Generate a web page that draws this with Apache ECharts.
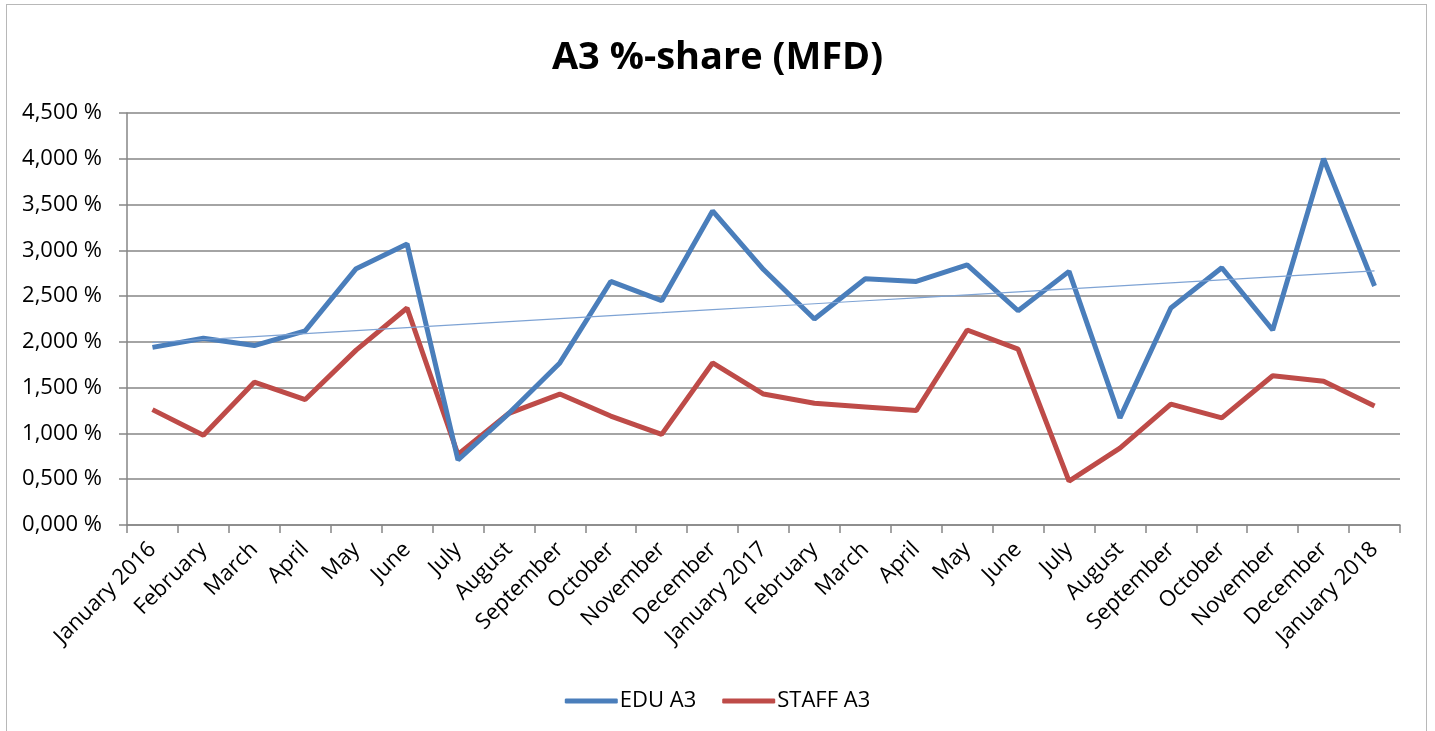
<!DOCTYPE html>
<html>
<head>
<meta charset="utf-8">
<script src="https://cdn.jsdelivr.net/npm/echarts@6/dist/echarts.min.js"></script>
<style>
  html, body { margin: 0; padding: 0; background: #fff; }
  #frame { position: absolute; left: 6px; top: 4px; width: 1421px; height: 740px; border: 1px solid #b8b8b8; box-sizing: border-box; }
  #chart { position: absolute; left: 0; top: 0; width: 1435px; height: 731px; }
</style>
</head>
<body>
<div id="frame"></div>
<div id="chart"></div>
<script>
const categories = [
  "January 2016", "February", "March", "April", "May", "June", "July", "August",
  "September", "October", "November", "December", "January 2017", "February",
  "March", "April", "May", "June", "July", "August", "September", "October",
  "November", "December", "January 2018"
]
const eduA3 = [
  1.94, 2.04, 1.96, 2.12, 2.80, 3.07, 0.71, 1.22, 1.77, 2.66, 2.45, 3.43, 2.79,
  2.25, 2.69, 2.66, 2.84, 2.34, 2.77, 1.17, 2.37, 2.81, 2.13, 4.00, 2.61
]
const staffA3 = [
  1.26, 0.98, 1.56, 1.37, 1.91, 2.37, 0.77, 1.22, 1.43, 1.19, 0.99, 1.77, 1.43,
  1.33, 1.29, 1.25, 2.13, 1.92, 0.48, 0.84, 1.32, 1.17, 1.63, 1.57, 1.30
]

// linear trendline (least squares) for EDU A3
const n = eduA3.length
let sx = 0, sy = 0, sxy = 0, sxx = 0
eduA3.forEach((v, i) => { sx += i; sy += v; sxy += i * v; sxx += i * i })
const slope = (n * sxy - sx * sy) / (n * sxx - sx * sx)
const icpt = (sy - slope * sx) / n
const trend = eduA3.map((v, i) => +(icpt + slope * i).toFixed(4))

const font = "'Open Sans', 'Noto Sans', sans-serif"
const chart = echarts.init(document.getElementById("chart"), null, { renderer: "canvas" })

chart.setOption({
  animation: false,
  title: {
    text: "A3 %-share (MFD)",
    left: "center",
    top: 34,
    textStyle: { fontFamily: font, fontSize: 38, fontWeight: "bold", color: "#000" },
  },
  legend: {
    bottom: 14,
    left: "center",
    itemWidth: 53,
    itemHeight: 5,
    itemGap: 26,
    icon: "roundRect",
    data: ["EDU A3", "STAFF A3"],
    textStyle: { fontFamily: font, fontSize: 22, color: "#000", padding: [0, 0, 0, -3] },
  },
  grid: { left: 127, right: 35, top: 113, bottom: 206 },
  xAxis: {
    type: "category",
    data: categories,
    boundaryGap: true,
    axisLine: { lineStyle: { color: "#868686", width: 1.5 } },
    axisTick: { show: true, length: 8, lineStyle: { color: "#868686", width: 1.5 } },
    axisLabel: {
      interval: 0,
      rotate: 45,
      fontFamily: font,
      fontSize: 22,
      color: "#000",
      margin: 21,
    },
  },
  yAxis: {
    type: "value",
    min: 0,
    max: 4.5,
    interval: 0.5,
    axisLine: { show: true, lineStyle: { color: "#868686", width: 1.5 } },
    axisTick: { show: true, length: 8, lineStyle: { color: "#868686", width: 1.5 } },
    splitLine: { lineStyle: { color: "#868686", width: 1.5 } },
    axisLabel: {
      fontFamily: font,
      fontSize: 22,
      color: "#000",
      margin: 25,
      formatter: (v) => v.toFixed(3).replace(".", ",") + " %",
    },
  },
  series: [
    {
      name: "EDU A3",
      type: "line",
      data: eduA3,
      symbol: "none",
      lineStyle: { color: "#4a7ebb", width: 5 },
      itemStyle: { color: "#4a7ebb" },
      z: 3,
    },
    {
      name: "STAFF A3",
      type: "line",
      data: staffA3,
      symbol: "none",
      lineStyle: { color: "#be4b48", width: 5 },
      itemStyle: { color: "#be4b48" },
      z: 2,
    },
    {
      name: "Linear (EDU A3)",
      type: "line",
      data: trend,
      symbol: "none",
      lineStyle: { color: "#7ea3d4", width: 1.2 },
      z: 4,
    },
  ],
})
</script>
</body>
</html>
